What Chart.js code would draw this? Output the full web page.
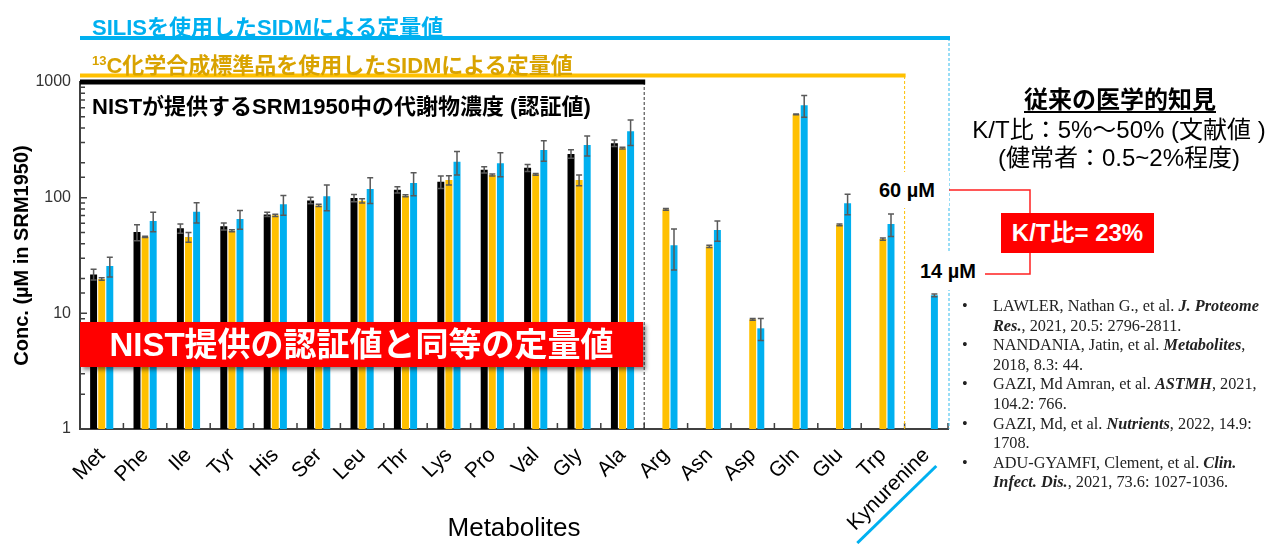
<!DOCTYPE html>
<html>
<head>
<meta charset="utf-8">
<script src="https://cdn.jsdelivr.net/npm/chart.js@4"></script>
<style>
  body { margin: 0; background: #fff; }
  #wrap { position: relative; width: 1271px; height: 544px; overflow: hidden; }
  #chart { position: absolute; left: 0; top: 0; }
  .t { position: absolute; white-space: nowrap; font-family: "Liberation Sans", "Noto Sans CJK JP", sans-serif; }
  .b { font-weight: bold; }
  #refs { position: absolute; left: 962px; top: 296px; margin: 0; padding: 0; list-style: none;
          font-family: "Liberation Serif", "Times New Roman", serif; font-size: 16.3px; line-height: 19.6px; color: #222; }
  #refs li { position: relative; padding-left: 31px; }
  #refs li:before { content: "•"; position: absolute; left: 0; }
</style>
</head>
<body>
<div id="wrap">
  <canvas id="chart" width="1271" height="544"></canvas>

  <div class="t b" style="left:92px;top:9px;font-size:22px;color:#00B0F0;">SILISを使用したSIDMによる定量値</div>
  <div class="t b" style="left:92px;top:47px;font-size:22px;color:#D9A300;"><sup style="font-size:13px;">13</sup>C化学合成標準品を使用したSIDMによる定量値</div>
  <div class="t b" style="left:92px;top:88px;font-size:22px;color:#000;">NISTが提供するSRM1950中の代謝物濃度 (認証値)</div>

  <div class="t b" style="left:80px;top:322px;width:563px;height:45px;line-height:45px;background:#FF0000;color:#fff;font-size:33px;text-align:center;box-shadow:3px 3px 4px rgba(0,0,0,0.45);">NIST提供の認証値と同等の定量値</div>

  <div class="t b" style="left:865px;top:172px;width:84px;height:36px;line-height:36px;background:#fff;font-size:20px;text-align:center;">60 µM</div>
  <div class="t b" style="left:911px;top:252px;width:74px;height:38px;line-height:38px;background:#fff;font-size:20px;text-align:center;">14 µM</div>
  <div class="t b" style="left:1001px;top:213px;width:153px;height:40px;line-height:40px;background:#FF0000;color:#fff;font-size:24px;text-align:center;">K/T比= 23%</div>

  <div class="t b" style="left:1020px;top:80px;width:200px;font-size:24px;text-align:center;text-decoration:underline;text-underline-offset:3px;">従来の医学的知見</div>
  <div class="t" style="left:960px;top:110px;width:318px;font-size:24px;text-align:center;">K/T比：5%～50% (文献値 )</div>
  <div class="t" style="left:960px;top:138px;width:318px;font-size:24px;text-align:center;">(健常者：0.5~2%程度)</div>

  <ul id="refs">
    <li>LAWLER, Nathan G., et al. <b><i>J. Proteome</i></b><br><b><i>Res.</i></b>, 2021, 20.5: 2796-2811.</li>
    <li>NANDANIA, Jatin, et al. <b><i>Metabolites</i></b>,<br>2018, 8.3: 44.</li>
    <li>GAZI, Md Amran, et al. <b><i>ASTMH</i></b>, 2021,<br>104.2: 766.</li>
    <li>GAZI, Md, et al. <b><i>Nutrients</i></b>, 2022, 14.9:<br>1708.</li>
    <li>ADU-GYAMFI, Clement, et al. <b><i>Clin.</i></b><br><b><i>Infect. Dis.</i></b>, 2021, 73.6: 1027-1036.</li>
  </ul>
</div>

<script>
// Categories (metabolites)
const metabolites = ["Met", "Phe", "Ile", "Tyr", "His", "Ser", "Leu", "Thr", "Lys", "Pro", "Val", "Gly", "Ala",
                     "Arg", "Asn", "Asp", "Gln", "Glu", "Trp", "Kynurenine"];

// NIST certified values (µM)
const nistValues = [21.7, 50.4, 54.3, 56.5, 71.7, 94.7, 99.3, 117, 137, 174, 181, 239, 296,
                    null, null, null, null, null, null, null];
const nistErrors = [2.3, 8, 5, 4, 3, 6, 7, 7, 17, 11, 13, 20, 19,
                    null, null, null, null, null, null, null];

// SIDM with 13C chemically synthesized standards
const c13Values = [19.8, 45.9, 45.6, 51.8, 70.3, 85.7, 94, 104, 142, 157, 159, 142, 268,
                   79.2, 37.9, 8.87, 525, 58.3, 43.9, null];
const c13Errors = [0.5, 0.6, 4.5, 1, 1.5, 2, 4, 2, 13, 3, 3, 15, 5,
                   1.5, 0.8, 0.15, 5, 1, 1, null];

// SIDM with SILIS
const silisValues = [25.6, 62.8, 75.5, 65.3, 87.5, 103, 119, 134, 204, 198, 258, 285, 376,
                     38.7, 52.5, 7.42, 631, 89.3, 59.2, 14.3];
const silisErrors = [5, 12, 15, 12, 17, 26, 30, 30, 47, 46, 52, 56, 93,
                     15, 10.5, 1.6, 135, 18, 13, 0.4];

// Y axis labels shown (log scale)
const yTickLabels = [1, 10, 100, 1000];

const FONT = '"Liberation Sans", "Noto Sans CJK JP", sans-serif';

// error bars, inner ticks, dashed group separators and bracket lines
const decorPlugin = {
    id: 'decor',
    afterDatasetsDraw(chart) {
        const ctx = chart.ctx;
        const y = chart.scales.y;
        const errs = [nistErrors, c13Errors, silisErrors];

        ctx.save();
        ctx.strokeStyle = '#595959';
        ctx.lineWidth = 1.5;
        chart.data.datasets.forEach(function(ds, i) {
            const meta = chart.getDatasetMeta(i);
            meta.data.forEach(function(bar, j) {
                const v = ds.data[j];
                const e = errs[i][j];
                if (v == null || e == null) return;
                const yt = y.getPixelForValue(v + e);
                const yb = y.getPixelForValue(Math.max(v - e, 1));
                ctx.beginPath();
                ctx.moveTo(bar.x, yt); ctx.lineTo(bar.x, yb);
                ctx.moveTo(bar.x - 3, yt); ctx.lineTo(bar.x + 3, yt);
                ctx.moveTo(bar.x - 3, yb); ctx.lineTo(bar.x + 3, yb);
                ctx.stroke();
            });
        });
        ctx.restore();
    },
    afterDraw(chart) {
        const ctx = chart.ctx;
        const x = chart.scales.x;
        const y = chart.scales.y;
        const area = chart.chartArea;
        const edge = function(i) { return (x.getPixelForValue(i - 1) + x.getPixelForValue(i)) / 2; };
        const step = x.getPixelForValue(1) - x.getPixelForValue(0);

        ctx.save();
        // inner ticks on x axis at category boundaries
        ctx.strokeStyle = '#404040';
        ctx.lineWidth = 1.5;
        ctx.beginPath();
        for (let i = 1; i <= metabolites.length; i++) {
            const px = x.getPixelForValue(i - 1) + step / 2;
            ctx.moveTo(px, area.bottom); ctx.lineTo(px, area.bottom - 6);
        }
        // inner ticks on y axis (major and minor)
        y.ticks.forEach(function(t) {
            const py = y.getPixelForValue(t.value);
            const major = yTickLabels.indexOf(t.value) >= 0;
            ctx.moveTo(area.left, py); ctx.lineTo(area.left + (major ? 7 : 5), py);
        });
        ctx.stroke();

        // group separators (dashed) and headline bars
        const nistEnd = edge(13);
        const c13End = edge(19);
        const silisEnd = area.right + 1;
        ctx.lineWidth = 1;
        ctx.setLineDash([3, 2]);
        ctx.strokeStyle = '#333';
        ctx.beginPath(); ctx.moveTo(nistEnd, area.top); ctx.lineTo(nistEnd, area.bottom); ctx.stroke();
        ctx.strokeStyle = '#FFC000';
        ctx.beginPath(); ctx.moveTo(c13End, 76); ctx.lineTo(c13End, area.bottom); ctx.stroke();
        ctx.strokeStyle = '#33BBEE';
        ctx.beginPath(); ctx.moveTo(silisEnd, 38); ctx.lineTo(silisEnd, area.bottom); ctx.stroke();
        ctx.setLineDash([]);

        ctx.lineWidth = 4;
        ctx.strokeStyle = '#00B0F0';
        ctx.beginPath(); ctx.moveTo(area.left, 38); ctx.lineTo(silisEnd + 1, 38); ctx.stroke();
        ctx.strokeStyle = '#FFC000';
        ctx.beginPath(); ctx.moveTo(area.left, 75.5); ctx.lineTo(c13End + 1, 75.5); ctx.stroke();
        ctx.lineWidth = 5;
        ctx.strokeStyle = '#000';
        ctx.beginPath(); ctx.moveTo(area.left, area.top); ctx.lineTo(nistEnd + 1, area.top); ctx.stroke();

        // underline of Kynurenine label
        const kx = x.getPixelForValue(metabolites.length - 1);
        ctx.lineWidth = 3;
        ctx.strokeStyle = '#00B0F0';
        ctx.beginPath(); ctx.moveTo(kx - 69, 543); ctx.lineTo(kx + 10, 466); ctx.stroke();

        // bracket joining 60 µM and 14 µM to K/T ratio box
        ctx.lineWidth = 1.5;
        ctx.strokeStyle = '#FF2020';
        ctx.beginPath();
        ctx.moveTo(947, 190); ctx.lineTo(1030, 190); ctx.lineTo(1030, 213);
        ctx.moveTo(1030, 253); ctx.lineTo(1030, 274); ctx.lineTo(985, 274);
        ctx.stroke();
        ctx.restore();
    }
};

window.onload = function() {
    const ctx = document.getElementById('chart').getContext('2d');
    new Chart(ctx, {
        type: 'bar',
        data: {
            labels: metabolites,
            datasets: [
                { label: 'NIST', data: nistValues, backgroundColor: '#000000' },
                { label: '13C SIDM', data: c13Values, backgroundColor: '#FFC000' },
                { label: 'SILIS SIDM', data: silisValues, backgroundColor: '#00B0F0' }
            ]
        },
        options: {
            responsive: false,
            animation: false,
            categoryPercentage: 0.56,
            barPercentage: 0.86,
            layout: { padding: { top: 82, right: 323, left: 0, bottom: 0 } },
            plugins: { legend: { display: false }, tooltip: { enabled: false } },
            scales: {
                x: {
                    grid: { display: false, drawTicks: false },
                    border: { color: '#404040', width: 2 },
                    ticks: { font: { family: FONT, size: 21 }, color: '#000', minRotation: 45, maxRotation: 45, autoSkip: false, padding: 14 },
                    title: { display: true, text: 'Metabolites', font: { family: FONT, size: 26 }, color: '#000', padding: { top: 0, bottom: 0 } },
                    afterFit: function(s) { s.height = 115; }
                },
                y: {
                    type: 'logarithmic',
                    min: 1,
                    max: 1000,
                    grid: { display: false, drawTicks: false },
                    border: { color: '#404040', width: 2 },
                    ticks: {
                        autoSkip: false,
                        font: { family: FONT, size: 16 },
                        color: '#333',
                        padding: 9,
                        callback: function(v) { return yTickLabels.indexOf(v) >= 0 ? String(v) : ''; }
                    },
                    title: { display: true, text: 'Conc. (µM in SRM1950)', font: { family: FONT, size: 20, weight: 'bold' }, color: '#000', padding: { top: 10, bottom: 0 } },
                    afterFit: function(s) { s.width = 80; }
                }
            }
        },
        plugins: [decorPlugin]
    });
};
</script>
</body>
</html>
